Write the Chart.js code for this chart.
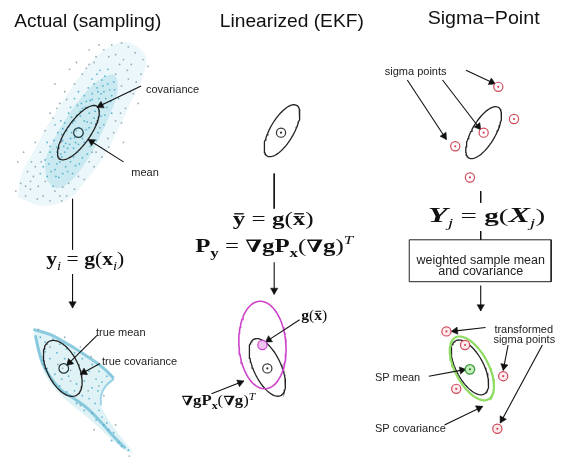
<!DOCTYPE html>
<html>
<head>
<meta charset="utf-8">
<script src="https://cdn.jsdelivr.net/npm/chart.js@4/dist/chart.umd.min.js"></script>
<style>
html,body{margin:0;padding:0;background:#fff;}
canvas{display:block;}
</style>
</head>
<body>
<canvas id="c" width="565" height="465"></canvas>
<script>
// ---------- DATA (diagram coordinates: x 0..565, y 0..465 downward) ----------
const titleText = ['Actual (sampling)', 'Linearized (EKF)', 'Sigma\u2212Point'];
const noteText = ['covariance', 'mean', 'true mean', 'true covariance', 'sigma points',
  'transformed', 'sigma points', 'SP mean', 'SP covariance'];
const boxText = ['weighted sample mean', 'and covariance'];

// equations as [text, style] runs
const eqYi = [['y','b'],['i','si'],[' = ','r'],['g','b'],['(','r'],['x','b'],['i','si'],[')','r']];
const eqYbar = [['y','bbar'],[' = ','r'],['g','b'],['(','r'],['x','bbar'],[')','r']];
const eqPy = [['P','b'],['y','sb'],[' = ','r'],['\u2207','n'],['gP','b'],['x','sb'],['(','r'],['\u2207','n'],['g','b'],[')','r'],['T','sp']];
const eqYj = [['Y','c'],['j','si'],[' = ','r'],['g','b'],['(','r'],['X','c'],['j','si'],[')','r']];
const eqGx = [['g','b'],['(','r'],['x','bbar'],[')','r']];
const eqGP = [['\u2207','n'],['gP','b'],['x','sb'],['(','r'],['\u2207','n'],['g','b'],[')','r'],['T','sp']];
const equations = [eqYi, eqYbar, eqPy, eqYj, eqGx, eqGP];

// sample cloud (prior), outline of dense area and points
const topHaze = [[12,196],[16,172],[28,150],[44,120],[62,92],[80,66],[100,46],[122,37],[142,50],[140,72],[127,100],[113,130],[99,156],[81,180],[63,199],[36,205],[12,196]];
const topCore = [[42,180],[40,160],[50,135],[65,110],[82,88],[98,74],[111,71],[114,88],[106,112],[95,136],[83,158],[67,179],[52,187],[42,180]];
const topCyan = [[50,168],[55,160],[47,155],[60,150],[52,145],[65,142],[58,138],[70,135],[62,128],[75,125],[68,120],[80,118],[72,112],[85,110],[78,105],[90,102],[82,98],[95,95],[88,90],[100,88],[93,84],[104,80],[98,76],[42,175],[38,165],[45,150],[57,132],[64,110],[85,125],[90,115],[95,108],[100,100],[108,92],[73,150],[66,160],[58,172],[80,140],[87,132],[77,100],[70,95],[60,120],[53,130],[48,185],[35,172],[42,140],[50,122],[110,78],[104,65],[96,66],[88,75],[115,95],[108,110],[100,122],[92,138],[83,152],[75,162],[68,172],[44,162],[56,152],[63,146],[71,140],[67,130],[79,131],[83,119],[76,113],[91,108],[86,97],[97,90],[102,95],[54,176],[61,165],[69,155],[49,138],[56,118],[66,104],[74,88],[84,84],[93,70],[106,86],
  [46,170],[52,162],[57,155],[61,141],[66,136],[72,128],[70,118],[76,108],[81,104],[88,96],[94,88],[99,82],[52,150],[59,144],[64,124],[69,146],[74,142],[78,136],[82,127],[87,120],[92,121],[97,113],[103,104],[107,98],[45,144],[40,158],[51,175],[63,170],[71,164],[78,156],[86,144],[94,130],[101,112],[111,86],[101,72],[90,80],[80,92],[73,102],[67,114],[58,126]];
const topGray = [[20,195],[15,182],[25,188],[32,198],[45,200],[55,195],[28,175],[22,170],[35,150],[30,140],[40,128],[45,110],[55,100],[60,88],[70,80],[78,70],[85,60],[92,52],[100,45],[108,40],[118,38],[125,42],[132,48],[140,55],[145,62],[138,70],[128,60],[120,55],[112,50],[125,75],[130,90],[122,105],[118,120],[110,130],[105,145],[98,155],[90,165],[80,178],[70,188],[62,195],[12,160],[18,150],[65,65],[72,58],[50,80],[120,140],[135,100],[10,190],[95,40],[85,45],[112,70],[118,82],[40,180],[30,165],[88,150],[96,125],[64,182],[38,195],
  [25,180],[33,185],[50,190],[58,186],[36,160],[48,115],[52,105],[62,96],[82,64],[90,58],[105,52],[116,60],[124,66],[133,78],[127,88],[117,110],[112,118],[104,136],[92,150],[85,160],[74,175],[57,200],[26,160],[20,185]];

// transformed cloud (posterior)
const botHaze = [[28,332],[45,337],[65,348],[85,361],[100,372],[111,382],[104,388],[97,397],[96,408],[102,420],[112,435],[122,448],[129,458],[120,455],[106,443],[92,430],[78,418],[63,406],[50,393],[40,378],[34,362],[31,348],[28,332]];
const botEdgeTop = [[28,332],[45,337],[65,348],[85,361],[100,372],[110,382]];
const botEdgeLeft = [[30,338],[33,352],[38,368],[46,382],[56,394],[68,402],[82,412],[96,426],[110,442],[122,454]];
const botEdgeRight = [[110,383],[102,390],[97,400],[97,410]];
const botCyan = [[35,340],[40,345],[48,342],[55,347],[62,352],[70,356],[78,362],[88,368],[95,375],[103,380],[40,355],[45,362],[52,356],[60,362],[68,366],[75,372],[85,375],[92,383],[98,386],[42,372],[50,378],[57,383],[64,380],[72,388],[80,385],[88,392],[94,395],[55,390],[62,396],[70,395],[78,400],[85,403],[91,408],[72,408],[80,415],[88,418],[95,415],[98,422],[92,425],[100,430],[105,435],[110,438],[103,428],[108,446],[115,448],[118,452],[125,456]];
const botGray = [[45,350],[53,368],[66,374],[82,378],[87,360],[76,350],[95,390],[66,385],[58,372],[48,385],[100,400],[84,395],[76,410],[90,435],[112,430],[126,462],[60,340],[33,332],[38,360]];

// covariance ellipses: [centerX, centerY, semiMajor, semiMinor, tiltDeg]
const ellBlack = [[74,130,33,12,-55],[58,372,31,16,64],[282,128,30,12,-60],[267,371,32,14,65],[488,130,30,12,-60],[474,371,31,14,62]];
const ellMagenta = [[262,348,45,24,86]];
const ellGreen = [[476,372,36,17,62]];

// mean / sigma point markers
const meanOpen = [[74,130],[59,372]];
const meanDot = [[281,130],[267,372]];
const magentaPt = [[262,348]];
const sigmaPts = [[503,83],[519,116],[488,130],[459,144],[474,176]];
const sigmaOut = [[450,334],[469,348],[508,380],[460,393],[502,434]];
const spMean = [[474,373]];

// connectors
const arrowFrom = [[138,82],[120,160],[68,275],[93,338],[96,367],[274,263],[300,322],[210,398],[470,66],[410,76],[446,76],[485,287],[490,330],[513,348],[548,348],[432,380],[448,430]];
const arrowTo   = [[93,104],[84,137],[68,310],[62,369],[76,378],[274,296],[265,345],[243,385],[500,80],[450,137],[485,127],[485,313],[455,334],[508,374],[505,428],[470,373],[487,411]];
const lineFrom = [[68,198],[274,172],[485,190],[485,231]];
const lineTo   = [[68,250],[274,208],[485,202],[485,240]];
const boxCorners = [[412,240],[557,240],[557,283],[412,283],[412,240]];

// ---------- LAYOUT (positions / sizes of text) ----------
const titleAt = [[83.5,22,147],[292,22,144],[488,18,112]];          // centerX, baseline, width
const noteAt = [[143,89],[128,175],[92,339],[98,369],[387,71],[499,336],[498,346],[377,385],[377,437]];
const boxTextAt = [[485,265],[485,276]];
const eqAt = [[81,266,19,78],[273,225,19,81],[274,253,19,158],[491,222,19,117],[315,322,14,26],[217,410,14,74]];

// ---------- BUILD ----------
const P = a => a.map(([x, y]) => ({x, y}));
function ellipsePts(e) {
  const [cx, cy, a, b, deg] = e, t = deg * Math.PI / 180, out = [];
  for (let k = 0; k <= 90; k++) {
    const s = k / 90 * 2 * Math.PI;
    out.push({x: cx + a*Math.cos(s)*Math.cos(t) - b*Math.sin(s)*Math.sin(t),
              y: cy + a*Math.cos(s)*Math.sin(t) + b*Math.sin(s)*Math.cos(t)});
  }
  return out;
}
const HEAD = 4.2;
const heads = arrowTo.map((p, i) => {
  const f = arrowFrom[i], dx = p[0]-f[0], dy = p[1]-f[1], L = Math.hypot(dx, dy);
  return {x: p[0] - dx/L*HEAD, y: p[1] - dy/L*HEAD, rot: Math.atan2(dx/L, -dy/L)*180/Math.PI};
});

const datasets = [];
const area = (d, col, ord) => datasets.push({type:'line', data:P(d), fill:'shape', backgroundColor:col, borderWidth:0, pointRadius:0, tension:0.35, order:ord});
area(topHaze, 'rgba(165,218,230,0.22)', 30);
area(topCore, 'rgba(110,195,215,0.26)', 29);
area(botHaze, 'rgba(150,212,226,0.30)', 30);
[botEdgeTop, botEdgeLeft].forEach(d => datasets.push({type:'line', data:P(d), borderColor:'rgba(60,165,200,0.55)', borderWidth:3, pointRadius:0, tension:0.35, fill:false, order:28}));
datasets.push({type:'line', data:P(botEdgeRight), borderColor:'rgba(70,170,205,0.5)', borderWidth:2, pointRadius:0, tension:0.35, fill:false, order:28});
const dots = (d, col) => datasets.push({type:'scatter', data:P(d), pointRadius:0.9, backgroundColor:col, borderWidth:0, order:27});
dots(topCyan, 'rgba(70,170,200,0.85)');
dots(topGray, 'rgba(120,150,160,0.75)');
dots(botCyan, 'rgba(70,170,200,0.85)');
dots(botGray, 'rgba(120,150,160,0.75)');
const ell = (list, col, w) => list.forEach(e => datasets.push({type:'line', data:ellipsePts(e), borderColor:col, borderWidth:w, pointRadius:0, fill:false, tension:0, order:15}));
ell(ellMagenta, '#cc44cc', 1.6);
ell(ellGreen, '#8fdc62', 2.2);
ell(ellBlack, '#222', 1.3);
arrowFrom.forEach((f, i) => datasets.push({type:'line', data:P([f, arrowTo[i]]), borderColor:'#111', borderWidth:1.1, pointRadius:0, fill:false, order:10}));
lineFrom.forEach((f, i) => datasets.push({type:'line', data:P([f, lineTo[i]]), borderColor:'#111', borderWidth:1, pointRadius:0, fill:false, order:10}));
datasets.push({type:'line', data:P(boxCorners), borderColor:'#222', borderWidth:1, pointRadius:0, fill:false, tension:0, order:10});
datasets.push({type:'scatter', data:heads.map(h => ({x:h.x, y:h.y})), pointStyle:'triangle', pointRadius:HEAD, pointRotation:heads.map(h => h.rot), backgroundColor:'#111', borderColor:'#111', borderWidth:0.5, order:9});
const marks = (d, col, fillc, r) => {
  datasets.push({type:'scatter', data:P(d), pointStyle:'circle', pointRadius:r, backgroundColor:fillc, borderColor:col, borderWidth:1.2, order:5});
};
const inner = (d, col) => datasets.push({type:'scatter', data:P(d), pointStyle:'circle', pointRadius:1.1, backgroundColor:col, borderWidth:0, order:4});
marks(meanOpen, '#1e3a40', 'rgba(255,255,255,0.15)', 4.8);
marks(meanDot, '#333', '#fff', 4.6); inner(meanDot, '#333');
marks(magentaPt, '#cc44cc', 'rgba(240,190,240,0.9)', 4.6);
marks(sigmaPts, '#d04a5a', '#fff', 4.6); inner(sigmaPts, '#d04a5a');
marks(sigmaOut, '#d04a5a', 'rgba(255,235,238,1)', 4.6); inner(sigmaOut, '#d04a5a');
marks(spMean, '#3a9a3a', 'rgba(200,240,190,1)', 4.8); inner(spMean, '#2d7a2d');

// ---------- TEXT PLUGIN ----------
const SERIF = '"Liberation Serif","DejaVu Serif",serif';
function fontFor(st, s) {
  switch (st) {
    case 'b': case 'bbar': return `bold ${s}px ${SERIF}`;
    case 'r': return `${s}px ${SERIF}`;
    case 'n': return `bold ${Math.round(s*0.92)}px "DejaVu Serif"`;
    case 'c': return `italic bold ${Math.round(s*1.08)}px ${SERIF}`;
    case 'si': case 'sp': return `italic ${Math.round(s*0.7)}px ${SERIF}`;
    case 'sb': return `bold ${Math.round(s*0.7)}px ${SERIF}`;
  }
  return `${s}px ${SERIF}`;
}
function shift(st, s) { return (st === 'si' || st === 'sb') ? s*0.24 : st === 'sp' ? -s*0.42 : 0; }
function drawRich(ctx, runs, cx, base, s, tw) {
  const ws = runs.map(([t, st]) => { ctx.font = fontFor(st, s); return ctx.measureText(t).width; });
  const W = ws.reduce((a, b) => a + b, 0);
  const sx = tw ? tw / W : 1;
  ctx.save();
  ctx.translate(cx - W*sx/2, base);
  ctx.scale(sx, 1);
  let xp = 0;
  runs.forEach(([t, st], i) => {
    ctx.font = fontFor(st, s);
    ctx.fillText(t, xp, shift(st, s));
    if (st === 'bbar') {
      ctx.beginPath();
      ctx.lineWidth = Math.max(1, s*0.07);
      ctx.moveTo(xp + ws[i]*0.12, -s*0.6);
      ctx.lineTo(xp + ws[i]*0.88, -s*0.6);
      ctx.stroke();
    }
    xp += ws[i];
  });
  ctx.restore();
}
const annot = {
  id: 'annot',
  afterDatasetsDraw(chart) {
    const {ctx, scales: {x, y}} = chart;
    const px = v => x.getPixelForValue(v), py = v => y.getPixelForValue(v);
    ctx.save();
    ctx.fillStyle = '#111'; ctx.strokeStyle = '#111';
    ctx.textBaseline = 'alphabetic'; ctx.textAlign = 'left';
    titleText.forEach((t, i) => {
      const [cx, b, tw] = titleAt[i];
      ctx.font = '19px "Liberation Sans", Arial, sans-serif';
      const w = ctx.measureText(t).width;
      ctx.save(); ctx.translate(px(cx) - tw/2, py(b)); ctx.scale(tw / w, 1); ctx.fillText(t, 0, 0); ctx.restore();
    });
    ctx.fillStyle = '#222';
    ctx.font = '11px "Liberation Sans", Arial, sans-serif';
    noteText.forEach((t, i) => ctx.fillText(t, px(noteAt[i][0]), py(noteAt[i][1])));
    ctx.font = '12.5px "Liberation Sans", Arial, sans-serif';
    ctx.textAlign = 'center';
    boxText.forEach((t, i) => ctx.fillText(t, px(boxTextAt[i][0]), py(boxTextAt[i][1])));
    ctx.textAlign = 'left';
    ctx.fillStyle = '#111';
    equations.forEach((eq, i) => { const [cx, b, s, tw] = eqAt[i]; drawRich(ctx, eq, px(cx), py(b), s, tw); });
    ctx.restore();
  }
};

new Chart(document.getElementById('c'), {
  type: 'scatter',
  data: {datasets},
  options: {
    responsive: false, animation: false, devicePixelRatio: 1, events: [],
    layout: {padding: 0},
    scales: {
      x: {type: 'linear', min: 0, max: 565, display: false},
      y: {type: 'linear', min: 0, max: 465, reverse: true, display: false}
    },
    plugins: {legend: {display: false}, tooltip: {enabled: false}}
  },
  plugins: [annot]
});
</script>
</body>
</html>
